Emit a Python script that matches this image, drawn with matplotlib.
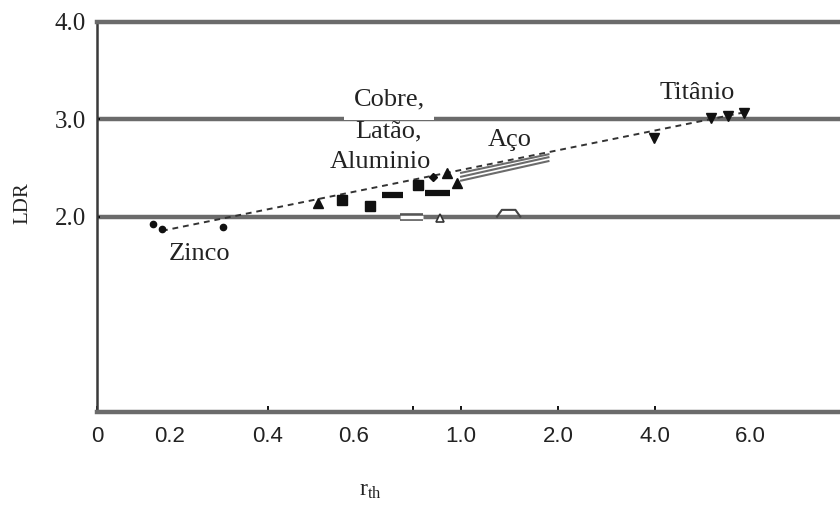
import numpy as np
import matplotlib.pyplot as plt

# x axis of the original is not linear: tick values and where they sit (px)
x_anchor = [0, 0.2, 0.4, 0.6, 0.8, 1.0, 2.0, 4.0, 6.0, 8.0]
x_pos = [97, 170, 268, 353, 413, 461, 558, 655, 750, 845]

# data
zinco_x = [0.153, 0.178, 0.308]
zinco_y = [1.92, 1.87, 1.89]
tri_x = [0.518, 0.942, 0.983]
tri_y = [2.14, 2.45, 2.35]
dia_x = [0.883]
dia_y = [2.41]
sq_x = [0.574, 0.657, 0.821]
sq_y = [2.17, 2.11, 2.33]
bar_x0 = [0.697, 0.85]
bar_x1 = [0.767, 0.954]
bar_y = [2.22, 2.24]
open_bar_x = [0.757, 0.842]
open_bar_y = [2.0, 2.0]
open_tri_x = [0.913]
open_tri_y = [1.99]
arc_x = [1.37, 1.42, 1.56, 1.61]
arc_y = [2.0, 2.07, 2.07, 2.0]
aco_x = [1.0, 1.9]
aco_y = [[2.37, 2.57], [2.41, 2.61], [2.45, 2.64]]
ti_x = [3.98, 5.18, 5.54, 5.87]
ti_y = [2.81, 3.01, 3.03, 3.06]
trend_x = [0.178, 5.87]
trend_y = [1.855, 3.07]

xticks_major = [0, 0.4, 0.8, 1.0, 2.0, 4.0]
xlabels_major = ['0', '0.4', '', '1.0', '2.0', '4.0']
xticks_minor = [0.2, 0.6, 6.0]
xlabels_minor = ['0.2', '0.6', '6.0']
yticks = [2.0, 3.0, 4.0]


def fwd(x):
    return np.interp(x, x_anchor, x_pos)


def inv(p):
    return np.interp(p, x_pos, x_anchor)


serif = 'Liberation Serif'
sans = 'Liberation Sans'
grey = '#6b6b6b'

fig = plt.figure(figsize=(8.4, 5.07), dpi=100)
ax = fig.add_axes([97 / 840, 1 - 411.7 / 507, 1 - 97 / 840, (411.7 - 21.7) / 507])
ax.set_xscale('function', functions=(fwd, inv))
ax.set_xlim(0, 7.89)
ax.set_ylim(0, 4)

for y in [2.0, 3.0]:
    ax.axhline(y, color=grey, lw=3.2, zorder=1)

ax.spines['right'].set_visible(False)
ax.spines['top'].set_color(grey)
ax.spines['top'].set_linewidth(3.2)
ax.spines['bottom'].set_color(grey)
ax.spines['bottom'].set_linewidth(3.2)
ax.spines['left'].set_color('#3a3a3a')
ax.spines['left'].set_linewidth(1.8)

# trend line
ax.plot(trend_x, trend_y, ls=(0, (3, 2.5)), color='#333333', lw=1.4, zorder=2)

# points
ax.plot(zinco_x, zinco_y, 'o', color='#111111', ms=4.5, zorder=3)
ax.plot(tri_x, tri_y, '^', color='#111111', ms=6.5, zorder=3)
ax.plot(dia_x, dia_y, 'D', color='#111111', ms=4.5, zorder=3)
ax.plot(sq_x, sq_y, 's', color='#111111', ms=7, zorder=3)
for a, b, y in zip(bar_x0, bar_x1, bar_y):
    ax.plot([a, b], [y, y], color='#111111', lw=4.5, solid_capstyle='butt', zorder=3)
ax.plot(open_bar_x, open_bar_y, color='#555555', lw=5.5, solid_capstyle='butt', zorder=3)
ax.plot(open_bar_x, open_bar_y, color='white', lw=2.5, solid_capstyle='butt', zorder=3)
ax.plot(open_tri_x, open_tri_y, '^', mfc='white', mec='#333333', mew=1.2, ms=6, zorder=3)
ax.plot(arc_x, arc_y, color='#444444', lw=1.5, zorder=3)
for ys in aco_y:
    ax.plot(aco_x, ys, color=grey, lw=1.5, zorder=3)
ax.plot(ti_x, ti_y, 'v', color='#111111', ms=7.5, zorder=3)

# annotations
tkw = dict(family=serif, fontsize=19, color='#222222', ha='center', va='center', zorder=4)
ax.text(0.261, 1.62, 'Zinco', **tkw)
ax.text(0.72, 3.2, 'Cobre,', bbox=dict(boxstyle='square,pad=0.36', fc='white', ec='none'), **tkw)
ax.text(0.717, 2.87, 'Latão,', **tkw)
ax.text(0.69, 2.56, 'Aluminio', **tkw)
ax.text(1.505, 2.79, 'Aço', **tkw)
ax.text(4.88, 3.27, 'Titânio', **tkw)

# ticks
ax.set_xticks(xticks_major)
ax.set_xticklabels(xlabels_major)
ax.set_xticks(xticks_minor, minor=True)
ax.set_xticklabels(xlabels_minor, minor=True)
ax.tick_params(axis='x', which='major', direction='in', length=4, width=1.3, color='black', pad=10)
ax.tick_params(axis='x', which='minor', direction='in', length=0, pad=10)
for lab in ax.get_xticklabels(which='both'):
    lab.set_family(sans)
    lab.set_fontsize(16)
    lab.set_color('#222222')

ax.set_yticks(yticks)
ax.set_yticklabels(['2.0', '3.0', '4.0'])
ax.tick_params(axis='y', direction='in', length=2, width=1.3, color='black', pad=8)
for lab in ax.get_yticklabels():
    lab.set_family(serif)
    lab.set_fontsize(18)
    lab.set_color('#222222')

fig.text(23 / 840, 1 - 203 / 507, 'LDR', rotation=90, family=serif, fontsize=15,
         color='#222222', ha='center', va='center')
fig.text(370 / 840, 1 - 490 / 507, r'$\mathregular{r_{th}}$', family=serif, fontsize=17,
         color='#222222', ha='center', va='center')

fig.savefig('out.png', dpi=100)
